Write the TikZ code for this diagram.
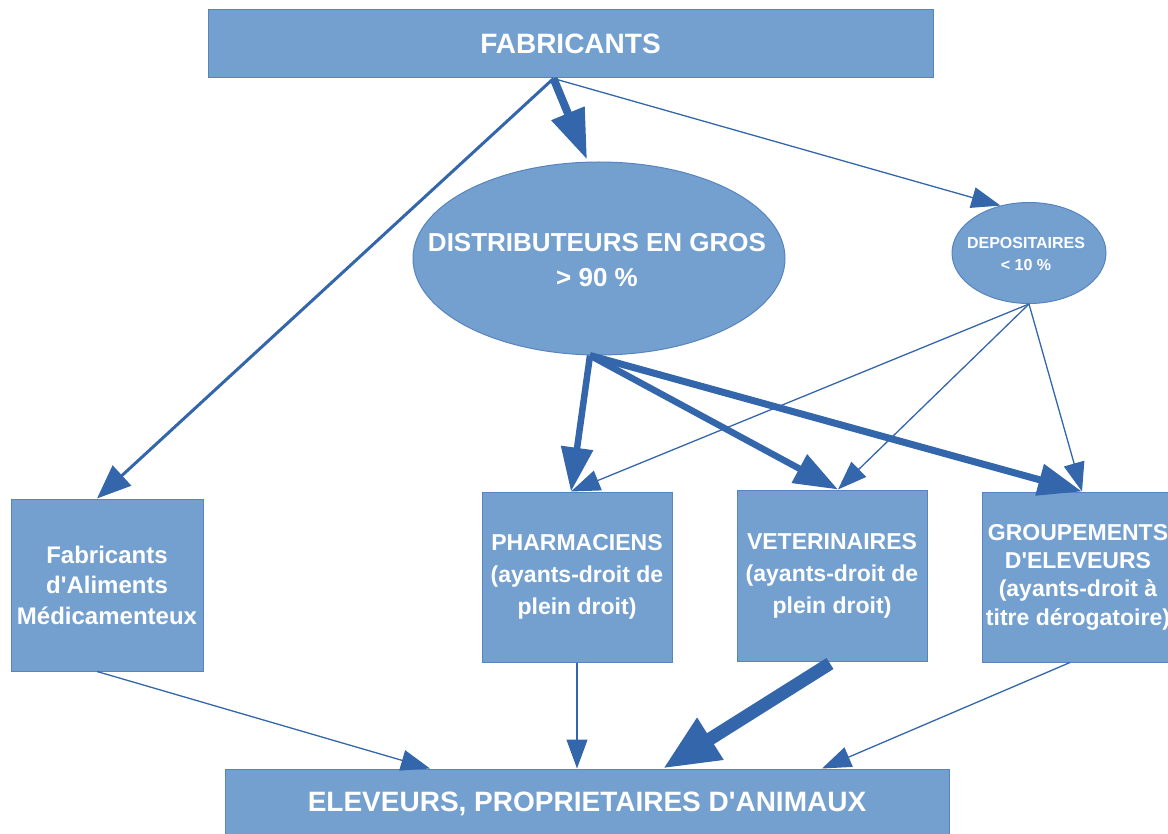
\documentclass[tikz,border=0pt]{standalone}
\usepackage{fontspec}
\setmainfont{Liberation Sans}
\usetikzlibrary{arrows.meta,shapes.geometric}
\definecolor{boxfill}{RGB}{116,160,208}
\definecolor{boxedge}{RGB}{88,132,190}
\definecolor{arrowc}{RGB}{51,102,170}
\begin{document}
\begin{tikzpicture}[x=1pt,y=-1pt,
  box/.style={draw=boxedge, line width=1pt, fill=boxfill, text=white, inner sep=0pt, align=center},
  ell/.style={ellipse, draw=boxedge, line width=1pt, fill=boxfill, inner sep=0pt},
  lbl/.style={text=white, inner sep=0pt, align=center},
  thinarr/.style={draw=arrowc, line width=1.3pt, -{Triangle[length=29pt,width=21pt]}},
  medarr/.style={draw=arrowc, line width=3pt, -{Triangle[length=34pt,width=27pt]}},
  bigarr/.style={draw=arrowc, line width=6.5pt, -{Triangle[length=44pt,width=31pt]}},
  hugearr/.style={draw=arrowc, line width=8pt, -{Triangle[length=50pt,width=34pt]}},
  giantarr/.style={draw=arrowc, line width=13pt, -{Triangle[length=56pt,width=46pt]}},
  f28/.style={font=\fontsize{28}{32}\selectfont\bfseries},
  f26/.style={font=\fontsize{26}{35}\selectfont\bfseries},
  f24/.style={font=\fontsize{24}{30.5}\selectfont\bfseries},
  f23/.style={font=\fontsize{23}{32}\selectfont\bfseries},
  f23t/.style={font=\fontsize{23}{28.3}\selectfont\bfseries},
  f16/.style={font=\fontsize{16}{22}\selectfont\bfseries}
]
\useasboundingbox (0,0) rectangle (1168,834);

% nodes
\node[box, f28, minimum width=725pt, minimum height=68pt] (fab) at (570.5,44) {FABRICANTS};
\node[ell, minimum width=372pt, minimum height=193pt] (dist) at (599,258.5) {};
\node[lbl, f26] (distt) at (597,260.5) {DISTRIBUTEURS EN GROS\\> 90 \%};
\node[ell, minimum width=154pt, minimum height=101pt] (depo) at (1029,253) {};
\node[lbl, f16] (depot) at (1026,254) {DEPOSITAIRES\\< 10 \%};
\node[box, f24, minimum width=192pt, minimum height=172pt] (alim) at (107,585) {Fabricants\\d\textquotesingle Aliments\\Médicamenteux};
\node[box, f23, minimum width=190pt, minimum height=170pt] (pharm) at (577,577) {PHARMACIENS\\(ayants-droit de\\plein droit)};
\node[box, f23, minimum width=190pt, minimum height=171pt] (vet) at (832,575.5) {VETERINAIRES\\(ayants-droit de\\plein droit)};
\node[box, f23t, minimum width=192pt, minimum height=170pt] (grp) at (1078,577) {GROUPEMENTS\\D\textquotesingle ELEVEURS\\(ayants-droit à\\titre dérogatoire)};
\node[box, f28, minimum width=724pt, minimum height=69pt] (elev) at (587,803.5) {ELEVEURS, PROPRIETAIRES D\textquotesingle ANIMAUX};

% from FABRICANTS
\draw[medarr] ([xshift=-17pt]fab.south) -- ([xshift=-10pt]alim.north);
\draw[hugearr] ([xshift=-17pt]fab.south) -- ([xshift=-12pt,yshift=2pt]dist.north);
\draw[thinarr] ([xshift=-17pt]fab.south) -- (depo.121);

% from DISTRIBUTEURS
\draw[bigarr] ([xshift=-9pt]dist.south) -- ([xshift=-6pt]pharm.north);
\draw[bigarr] ([xshift=-9pt]dist.south) -- ([xshift=6pt]vet.north);
\draw[bigarr, line width=7pt] ([xshift=-9pt]dist.south) -- ([xshift=4pt]grp.north);

% from DEPOSITAIRES
\draw[thinarr] (depo.south) -- ([xshift=-6pt]pharm.north);
\draw[thinarr] (depo.south) -- ([xshift=6pt]vet.north);
\draw[thinarr] (depo.south) -- ([xshift=4pt]grp.north);

% to ELEVEURS
\draw[thinarr] ([xshift=-10pt]alim.south) -- ([xshift=-157pt]elev.north);
\draw[thinarr] (pharm.south) -- (pharm.south |- elev.north);
\draw[giantarr] ([xshift=-2pt,yshift=-2pt]vet.south) -- ([xshift=76pt]elev.north);
\draw[thinarr] ([xshift=-8pt]grp.south) -- ([xshift=235pt]elev.north);
\end{tikzpicture}
\end{document}
